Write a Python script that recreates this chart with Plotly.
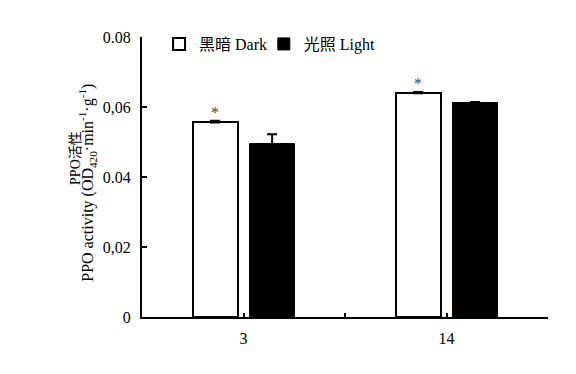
import plotly.graph_objects as go

categories = ["3", "14"]
dark_values = [0.0556, 0.0639]
dark_errors = [0.0005, 0.0004]
light_values = [0.0494, 0.0611]
light_errors = [0.0028, 0.0003]
significance = ["*", "*"]
y_tickvals = [0, 0.02, 0.04, 0.06, 0.08]
y_ticktext = ["0", "0,02", "0.04", "0,06", "0.08"]
y_title_cn = "PPO活性"
y_title_en = "PPO activity (OD<sub>420</sub>·min<sup>-1</sup>·g<sup>-1</sup>)"

FONT = "Liberation Serif, Noto Sans CJK SC, serif"
pos = list(range(len(categories)))
bar_w = 0.222
dark_off = -0.251
light_off = 0.03

fig = go.Figure()
fig.add_trace(go.Bar(
    x=pos, y=dark_values, name="黑暗 Dark", legend="legend",
    width=bar_w, offset=dark_off,
    marker=dict(color="white", line=dict(color="black", width=2)),
    error_y=dict(type="data", array=dark_errors, arrayminus=[0]*len(dark_errors),
                 symmetric=False, color="black", thickness=2, width=5),
))
fig.add_trace(go.Bar(
    x=pos, y=light_values, name="光照 Light", legend="legend2",
    width=bar_w, offset=light_off,
    marker=dict(color="#050000", line=dict(color="black", width=1)),
    error_y=dict(type="data", array=light_errors, arrayminus=[0]*len(light_errors),
                 symmetric=False, color="black", thickness=2, width=5),
))

for p, v, e, s in zip(pos, dark_values, dark_errors, significance):
    fig.add_annotation(x=p + dark_off + bar_w / 2, y=v + e, text=s, showarrow=False,
                       yanchor="bottom", yshift=-2, font=dict(family=FONT, size=16, color="#444444"))

fig.add_annotation(xref="paper", yref="paper", x=-0.1626, y=0.568, text=y_title_cn,
                   textangle=-90, showarrow=False, xanchor="center", yanchor="middle",
                   font=dict(family=FONT, size=14, color="black"))
fig.add_annotation(xref="paper", yref="paper", x=-0.134, y=0.478, text=y_title_en,
                   textangle=-90, showarrow=False, xanchor="center", yanchor="middle",
                   font=dict(family=FONT, size=16, color="black"))

leg_common = dict(orientation="h", y=0.975, xanchor="left", yanchor="middle",
                  font=dict(family=FONT, size=16, color="black"), bgcolor="rgba(0,0,0,0)")
fig.update_layout(
    template="none",
    width=576, height=374,
    margin=dict(l=142, r=28, t=37, b=57, autoexpand=False),
    plot_bgcolor="white", paper_bgcolor="white",
    font=dict(family=FONT, size=16, color="black"),
    showlegend=True,
    legend=dict(x=0.042, **leg_common),
    legend2=dict(x=0.3, **leg_common),
    bargap=0,
)
fig.update_xaxes(
    range=[-0.5, len(categories) - 0.5], tickmode="array",
    tickvals=pos, ticktext=categories,
    minor=dict(tickmode="array", tickvals=[0.5], ticks="inside", ticklen=4,
               tickwidth=2, tickcolor="black", showgrid=False),
    showline=True, linecolor="black", linewidth=2, ticks="inside", ticklen=4,
    tickwidth=2, tickcolor="black", showgrid=False, zeroline=False,
    ticklabelstandoff=6, tickfont=dict(size=16, color="black"), automargin=False,
)
fig.update_yaxes(
    range=[0, 0.08], tickmode="array", tickvals=y_tickvals, ticktext=y_ticktext,
    showline=True, linecolor="black", linewidth=2, ticks="inside", ticklen=5,
    tickwidth=2, tickcolor="black", showgrid=False, zeroline=False,
    ticklabelstandoff=6, tickfont=dict(size=16, color="black"), automargin=False,
)

fig.write_html("out.html", config={"displayModeBar": False},
               post_script="document.body.style.margin='0';")
